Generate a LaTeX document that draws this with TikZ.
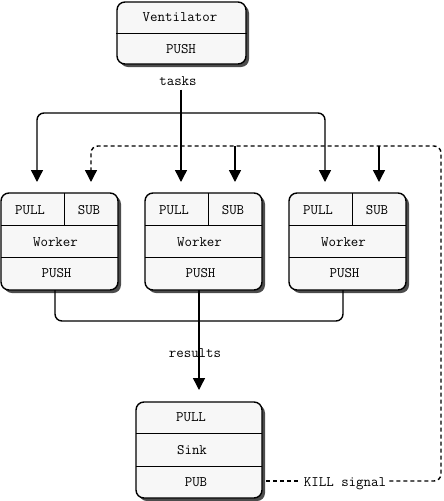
\documentclass[tikz,border=0pt]{standalone}
\usepackage{tikz}
\usetikzlibrary{arrows.meta,positioning,shadows}

\begin{document}
\begin{tikzpicture}[
    x=1pt, y=-1pt,
    box/.style={rectangle, rounded corners=8pt, draw=black, line width=1.4pt, fill=gray!6, inner sep=0pt, drop shadow={shadow xshift=3pt, shadow yshift=-3pt, fill=black!70, opacity=1}},
    txt/.style={font=\ttfamily\fontsize{14.5}{16}\selectfont, inner sep=0pt},
    rule/.style={line width=1pt},
    arrow/.style={line width=1.4pt,-{Triangle[length=12pt,width=12pt]}},
    wire/.style={line width=1.4pt, rounded corners=7pt},
    killwire/.style={wire, dash pattern=on 4pt off 3pt}
]
\useasboundingbox (0,0) rectangle (444,501);

% ventilator
\node (vent) [box, minimum width=129pt, minimum height=62pt] at (181.5,33) {};
\draw [rule] (vent.west) -- (vent.east);
\node (ventname) [txt] at (180,17.5) {Ventilator};
\node (ventpush) [txt] at (181,49.5) {PUSH};
\node (tasks) [txt, inner ysep=4pt] at (178,81) {tasks};

% workers
\foreach \i in {0,1,2} {
  \node (w\i) [box, minimum width=117pt, minimum height=97pt] at (59.5+144*\i,241.5) {};
  \draw [rule] (1+144*\i,225) -- (118+144*\i,225);
  \draw [rule] (1+144*\i,257) -- (118+144*\i,257);
  \draw [rule] (64+144*\i,193) -- (64+144*\i,225);
  \node (pull\i) [txt] at (30+144*\i,210) {PULL};
  \node (sub\i) [txt] at (89+144*\i,210) {SUB};
  \node (worker\i) [txt] at (55.5+144*\i,242) {Worker};
  \node (push\i) [txt] at (56.5+144*\i,273.5) {PUSH};
  \coordinate (t\i) at (37+144*\i,182);
  \coordinate (s\i) at (91+144*\i,182);
  \coordinate (out\i) at (55+144*\i,290);
}

% sink
\node (sink) [box, minimum width=126pt, minimum height=96pt] at (199,450) {};
\draw [rule] (136,433) -- (262,433);
\draw [rule] (136,466) -- (262,466);
\node (sinkpull) [txt] at (191,417.5) {PULL};
\node (sinkname) [txt] at (192,450) {Sink};
\node (sinkpub) [txt] at (196,482) {PUB};

\coordinate (fork) at (181,113);
\coordinate (bus) at (199,321);
\coordinate (sinkin) at (199,390);
\coordinate (ne) at (441,146);

% tasks
\draw [arrow] (tasks.south -| t1) -- (t1);
\draw [arrow, wire] (fork) -| (t0);
\draw [arrow, wire] (fork) -| (t2);

% results
\draw [wire] (out0) |- (bus) -| (out2);
\draw [arrow] (out1) -- (sinkin);
\node (results) [txt] at (195,353) {results};

% kill signal
\node (kill) [txt, inner xsep=3pt] at (345,483.5) {KILL signal};
\draw [killwire] (266,481) -- (kill.west |- 0,481);
\draw [killwire, -{Triangle[length=12pt,width=12pt]}] (kill.east |- 0,481) -| (ne) -| (s0);
\draw [arrow] (s1 |- ne) -- (s1);
\draw [arrow] (s2 |- ne) -- (s2);

\end{tikzpicture}
\end{document}
